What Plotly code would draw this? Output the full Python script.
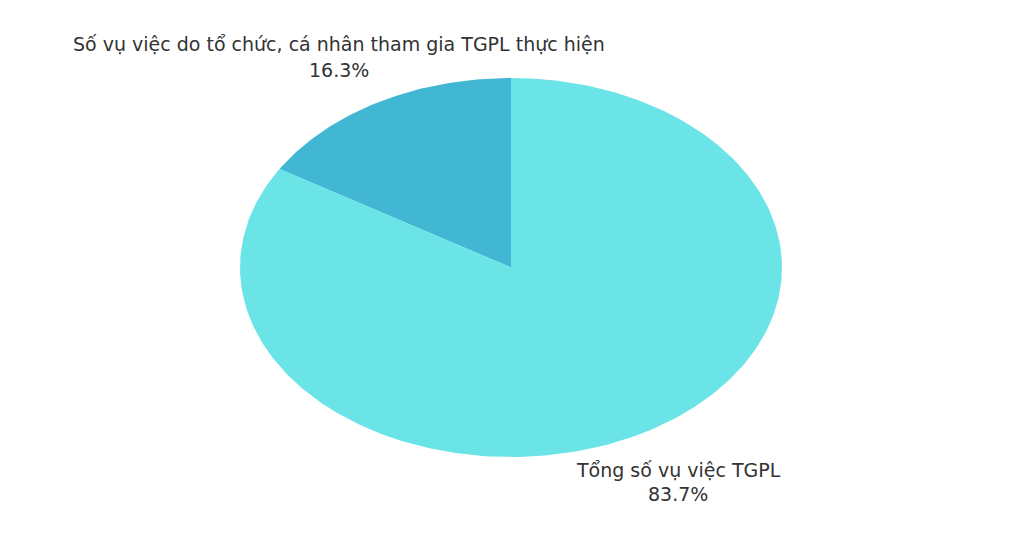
import numpy as np
import plotly.graph_objects as go

labels = ["Số vụ việc do tổ chức, cá nhân tham gia TGPL thực hiện", "Tổng số vụ việc TGPL"]
values = [16.3, 83.7]
colors = ["#42B7D4", "#6BE4E8"]

fig = go.Figure()
total = sum(values)
start = 0.0  # fraction, from 12 o'clock, counterclockwise
for lab, val, col in zip(labels, values, colors):
    frac = val / total
    n = max(int(frac * 400), 4)
    fr = np.linspace(start, start + frac, n)
    ang = np.pi / 2 + 2 * np.pi * fr
    xs = np.concatenate([[0], np.cos(ang), [0]])
    ys = np.concatenate([[0], np.sin(ang), [0]])
    fig.add_trace(go.Scatter(x=xs, y=ys, fill="toself", mode="lines",
                             line=dict(width=0, color=col), fillcolor=col,
                             name=lab, hoverinfo="name"))
    start += frac

# label anchor positions (paper coords): x, y of name line, y of percent line
pos = [(0.1827, 1.0897, 1.0211), (0.809, -0.0343, -0.0976)]
font = dict(family="DejaVu Sans, sans-serif", size=19, color="#333333")
for lab, val, (px, py1, py2) in zip(labels, values, pos):
    fig.add_annotation(x=px, y=py1, xref="paper", yref="paper", text=lab,
                       showarrow=False, xanchor="center", yanchor="middle", font=font)
    fig.add_annotation(x=px, y=py2, xref="paper", yref="paper",
                       text=f"{val / total * 100:.1f}%",
                       showarrow=False, xanchor="center", yanchor="middle", font=font)

fig.update_xaxes(range=[-1, 1], visible=False, fixedrange=True)
fig.update_yaxes(range=[-1, 1], visible=False, fixedrange=True)
fig.update_layout(width=1024, height=538, showlegend=False,
                  margin=dict(l=232, r=250, t=70, b=89),
                  paper_bgcolor="white", plot_bgcolor="white")
fig.write_html("out.html")
